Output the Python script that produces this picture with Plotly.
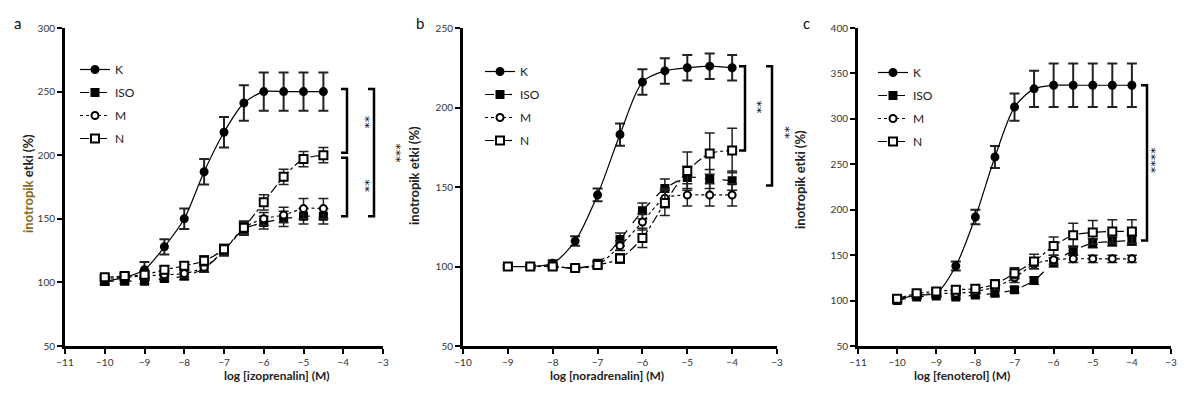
import plotly.graph_objects as go

# ---------------- data ----------------
a_x = [-10, -9.5, -9, -8.5, -8, -7.5, -7, -6.5, -6, -5.5, -5, -4.5]
a_K = [101, 104, 110, 128, 150, 187, 218, 241, 250, 250, 250, 250]
a_K_err = [3, 3, 6, 6, 8, 10, 12, 14, 15, 15, 15, 15]
a_ISO = [101, 101, 101, 103, 105, 111, 125, 142, 147, 150, 152, 152]
a_ISO_err = [2, 2, 2, 2, 3, 3, 4, 5, 5, 6, 6, 6]
a_M = [103, 104, 105, 106, 107, 112, 125, 143, 150, 153, 158, 158]
a_M_err = [2, 2, 3, 3, 3, 4, 4, 5, 5, 6, 8, 8]
a_N = [104, 105, 106, 110, 113, 117, 126, 143, 163, 183, 197, 200]
a_N_err = [2, 2, 3, 3, 3, 4, 4, 5, 6, 6, 6, 6]

b_x = [-9, -8.5, -8, -7.5, -7, -6.5, -6, -5.5, -5, -4.5, -4]
b_K = [100, 100, 102, 116, 145, 183, 216, 223, 225, 226, 225]
b_K_err = [1, 1, 2, 3, 4, 7, 8, 8, 8, 8, 8]
b_ISO = [100, 100, 100, 99, 102, 117, 135, 149, 156, 155, 154]
b_ISO_err = [1, 1, 1, 1, 2, 4, 5, 6, 7, 6, 6]
b_M = [100, 100, 100, 99, 101, 113, 128, 143, 145, 145, 145]
b_M_err = [1, 1, 1, 1, 2, 3, 5, 6, 7, 7, 7]
b_N = [100, 100, 100, 99, 101, 105, 118, 140, 160, 171, 173]
b_N_err = [1, 1, 1, 1, 2, 3, 6, 8, 12, 13, 14]

c_x = [-10, -9.5, -9, -8.5, -8, -7.5, -7, -6.5, -6, -5.5, -5, -4.5, -4]
c_K = [101, 106, 108, 138, 192, 258, 313, 333, 337, 337, 337, 337, 337]
c_K_err = [3, 3, 4, 5, 8, 12, 15, 20, 24, 24, 24, 24, 24]
c_ISO = [100, 104, 105, 104, 106, 108, 112, 122, 142, 155, 163, 165, 166]
c_ISO_err = [2, 2, 2, 2, 2, 3, 3, 4, 5, 5, 5, 5, 5]
c_M = [101, 106, 108, 108, 110, 115, 125, 140, 145, 146, 146, 146, 146]
c_M_err = [2, 2, 3, 3, 3, 4, 5, 5, 5, 4, 4, 4, 4]
c_N = [102, 108, 110, 112, 113, 118, 130, 143, 160, 172, 175, 176, 176]
c_N_err = [3, 3, 4, 4, 4, 5, 6, 8, 10, 13, 13, 13, 13]

series_names = ["K", "ISO", "M", "N"]
panel_letters = ["a", "b", "c"]
x_titles = ["log [izoprenalin] (M)", "log [noradrenalin] (M)", "log [fenoterol] (M)"]
y_title = "inotropik etki (%)"
x_ranges = [[-11, -3], [-10, -3], [-11, -3]]
y_ranges = [[50, 300], [50, 250], [50, 400]]

panels = [
    (a_x, [(a_K, a_K_err), (a_ISO, a_ISO_err), (a_M, a_M_err), (a_N, a_N_err)]),
    (b_x, [(b_K, b_K_err), (b_ISO, b_ISO_err), (b_M, b_M_err), (b_N, b_N_err)]),
    (c_x, [(c_K, c_K_err), (c_ISO, c_ISO_err), (c_M, c_M_err), (c_N, c_N_err)]),
]

# ---------------- styling ----------------
W, H = 1184, 402
FONT = "Lato"
x_domains = [[65 / W, 383 / W], [463 / W, 777 / W], [858 / W, 1171 / W]]
y_domain = [1 - 346 / H, 1 - 28 / H]

styles = [
    dict(symbol="circle", fill="black", dash="solid", size=7),
    dict(symbol="square", fill="black", dash="dash", size=7),
    dict(symbol="circle", fill="white", dash="dot", size=7),
    dict(symbol="square", fill="white", dash="dashdot", size=8),
]

fig = go.Figure()
legend_names = ["legend", "legend2", "legend3"]

for p, (xs, ser) in enumerate(panels):
    xa = "x" if p == 0 else f"x{p+1}"
    ya = "y" if p == 0 else f"y{p+1}"
    for s_i, (vals, errs) in enumerate(ser):
        st = styles[s_i]
        fig.add_trace(go.Scatter(
            x=xs, y=vals, xaxis=xa, yaxis=ya,
            mode="lines+markers",
            name=series_names[s_i],
            legend=legend_names[p],
            legendgroup=f"{p}-{s_i}",
            line=dict(color="black", width=1.2, dash=st["dash"], shape="spline", smoothing=0.8),
            marker=dict(symbol=st["symbol"], size=st["size"], color=st["fill"],
                        line=dict(color="black", width=2)),
            error_y=dict(type="data", array=errs, visible=True, color="#222",
                         thickness=2 if s_i == 0 else 1.5, width=5),
            cliponaxis=False,
        ))

layout = dict(
    width=W, height=H,
    template="simple_white",
    margin=dict(l=0, r=0, t=0, b=0, pad=0, autoexpand=False),
    paper_bgcolor="white", plot_bgcolor="white",
    font=dict(family=FONT, color="#222", size=11),
    showlegend=True,
)

for p in range(3):
    sfx = "" if p == 0 else str(p + 1)
    layout["xaxis" + sfx] = dict(
        domain=x_domains[p], range=x_ranges[p], anchor="y" + sfx, automargin=False,
        showgrid=False, zeroline=False, showline=True, linecolor="black", linewidth=3,
        ticks="outside", ticklen=5, tickwidth=2, tickcolor="black", dtick=1,
        tickfont=dict(size=10, color="#333", family=FONT),
    )
    layout["yaxis" + sfx] = dict(
        domain=y_domain, range=y_ranges[p], anchor="x" + sfx, automargin=False,
        showgrid=False, zeroline=False, showline=True, linecolor="black", linewidth=3,
        ticks="outside", ticklen=5, tickwidth=2, tickcolor="black", dtick=50,
        tickfont=dict(size=10, color="#333", family=FONT),
    )

legend_pos = [(75 / W, 1 - 55 / H), (480 / W, 1 - 57 / H), (873 / W, 1 - 58 / H)]
for p, ln in enumerate(legend_names):
    layout[ln] = dict(
        x=legend_pos[p][0], y=legend_pos[p][1], xanchor="left", yanchor="top",
        bgcolor="rgba(0,0,0,0)", font=dict(size=12, color="#222", family=FONT),
        tracegroupgap=4, itemwidth=30,
    )

fig.update_layout(**layout)

annotations = []
# panel letters
for letter, xp in zip(panel_letters, [12, 420, 812]):
    annotations.append(dict(text=letter, x=xp / W, y=1 - 12 / H, xref="paper", yref="paper",
                            showarrow=False, font=dict(size=15, color="#111", family=FONT)))
# x titles
for t, xp in zip(x_titles, [222, 607, 1012]):
    annotations.append(dict(text=f"<b>{t}</b>", x=xp / W, y=1 - 385 / H, xref="paper", yref="paper",
                            showarrow=False, font=dict(size=12, color="#222", family=FONT)))
# y titles
for p, (xp, yp) in enumerate([(18, 184), (414, 176), (810, 180)]):
    txt = "<b><span style='color:#8a6a1a'>inotropik</span> etki (%)</b>" if p == 0 else f"<b>{y_title}</b>"
    annotations.append(dict(text=txt, x=xp / W, y=1 - yp / H, xref="paper", yref="paper",
                            textangle=-90, showarrow=False, font=dict(size=13, color="#222", family=FONT)))

# significance brackets: (yref, x_px, y_top, y_bottom, label, label_x_px, label_y)
brackets = [
    ("y", 347, 252, 202, "**", 356, 226),
    ("y", 347, 198, 152, "**", 356, 176),
    ("y", 374, 252, 152, "***", 387, 202),
    ("y2", 745, 226, 173, "**", 757, 200),
    ("y2", 772, 226, 151, "**", 785, 184),
    ("y3", 1147, 337, 166, "****", 1161, 254),
]
shapes = []
for yref, xp, yt, yb, lab, lx, ly in brackets:
    x0 = (xp - 6) / W
    x1 = xp / W
    shapes.append(dict(type="path", xref="paper", yref=yref,
                       path=f"M {x0} {yt} L {x1} {yt} L {x1} {yb} L {x0} {yb}",
                       fillcolor="rgba(0,0,0,0)", opacity=1,
                       line=dict(color="black", width=2.5)))
    annotations.append(dict(text=lab, x=lx / W, y=ly, xref="paper", yref=yref, textangle=90,
                            showarrow=False, font=dict(size=13, color="#000000", family="DejaVu Sans")))

fig.update_layout(annotations=annotations, shapes=shapes)
fig.write_html("out.html", config={"displayModeBar": False},
               post_script="document.body.style.margin='0px';")
